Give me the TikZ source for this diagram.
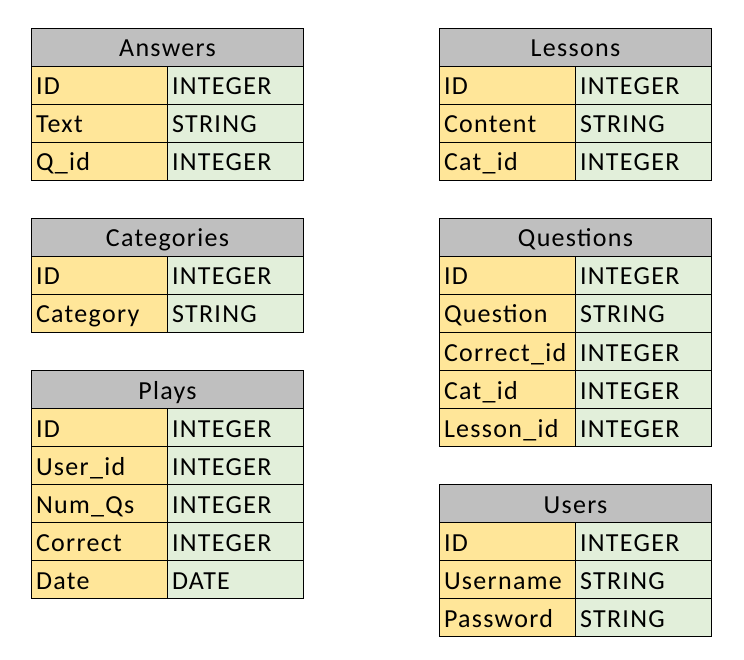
\documentclass[tikz,border=0pt]{standalone}
\usepackage{fontspec}
\setmainfont{Carlito}[LetterSpace=5]
\definecolor{hdrc}{HTML}{BFBFBF}
\definecolor{keyc}{HTML}{FFE699}
\definecolor{valc}{HTML}{E2EFDA}
\tikzset{
  basecell/.style={draw=black, line width=1pt, anchor=north west, inner xsep=4.5pt, inner ysep=0pt,
    minimum height=38pt, text height=20.5pt, text depth=1.5pt, font=\fontsize{26}{30}\selectfont},
  hdrcell/.style={basecell, fill=hdrc, text width=263pt, align=center},
  keycell/.style={basecell, fill=keyc, text width=127pt, align=left},
  valcell/.style={basecell, fill=valc, text width=127pt, align=left},
}
\newcommand\dbtable[5]{%
  \node[hdrcell] (#1-h) at (#2,#3) {#4};
  \foreach \k/\v [count=\i] in {#5} {
    \node[keycell] (#1-k\i) at (#2,{#3+38*\i}) {\k};
    \node[valcell] (#1-v\i) at ({#2+136},{#3+38*\i}) {\v};
  }
}
\begin{document}
\begin{tikzpicture}[x=1pt,y=-1pt]
\useasboundingbox (0,0) rectangle (744,660);
\dbtable{ans}{31}{28}{Answers}{ID/INTEGER, Text/STRING, Q\_id/INTEGER}
\dbtable{cat}{31}{218}{Categories}{ID/INTEGER, Category/STRING}
\dbtable{pla}{31}{370}{Plays}{ID/INTEGER, User\_id/INTEGER, Num\_Qs/INTEGER, Correct/INTEGER, Date/DATE}
\dbtable{les}{439}{28}{Lessons}{ID/INTEGER, Content/STRING, Cat\_id/INTEGER}
\dbtable{que}{439}{218}{Questions}{ID/INTEGER, Question/STRING, Correct\_id/INTEGER, Cat\_id/INTEGER, Lesson\_id/INTEGER}
\dbtable{usr}{439}{484}{Users}{ID/INTEGER, Username/STRING, Password/STRING}
\end{tikzpicture}
\end{document}
